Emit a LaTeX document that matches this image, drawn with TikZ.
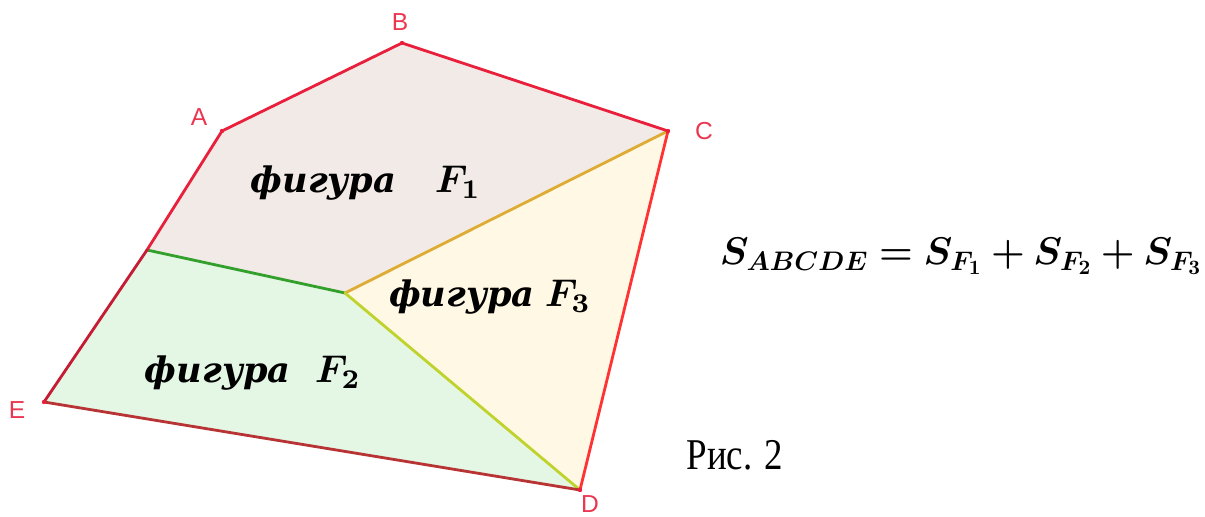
\documentclass[tikz,border=0pt]{standalone}
\usepackage{amsmath}
\usepackage{graphicx}
\usepackage{fontspec}
\setmainfont{Liberation Serif}
\setsansfont{Liberation Sans}
\newfontfamily\figfont{DejaVu Serif}
\usetikzlibrary{calc}
\definecolor{edgered}{RGB}{232,32,60}
\definecolor{darkedge}{RGB}{184,52,52}
\definecolor{fillone}{RGB}{242,234,230}
\definecolor{filltwo}{RGB}{228,246,228}
\definecolor{fillthree}{RGB}{255,248,228}
\definecolor{greenedge}{RGB}{52,160,44}
\definecolor{goldedge}{RGB}{222,172,52}
\definecolor{limeedge}{RGB}{192,210,44}
\newcommand{\areasum}{$\boldsymbol{S_{ABCDE}}\boldsymbol{=}\boldsymbol{S_{F_1}}\boldsymbol{+}\boldsymbol{S_{F_2}}\boldsymbol{+}\boldsymbol{S_{F_3}}$}
\newcommand{\figname}[1]{{\fontsize{10}{10}\selectfont\scalebox{2.2}{$\boldsymbol{F_{#1}}$}}}
\tikzset{
    side/.style={
        line width=1.6pt,
        line cap=round,
        line join=round
    },
    % подписи вершин
    vlabel/.style={
        edgered!90!white,
        font=\sffamily\fontsize{14}{14}\selectfont
    },
    figlabel/.style={
        font=\figfont\fontsize{20}{20}\selectfont\bfseries\itshape
    },
    sumlabel/.style={
        font=\fontsize{22.3}{22.3}\selectfont
    }
}

\begin{document}
\begin{tikzpicture}[x=0.02cm,y=-0.02cm]
   \useasboundingbox (0,0) rectangle (1205,517);
   \path
    (222,131) coordinate (A)
    (402,43)  coordinate (B)
    (668,131) coordinate (C)
    (580,490) coordinate (D)
    (44,402)  coordinate (E)
    (345,293) coordinate (P)
    (147,250) coordinate (Q);

    % заливка трёх фигур
    \fill[fillone] (A) -- (B) -- (C) -- (P) -- (Q) -- cycle;
    \fill[filltwo] (Q) -- (P) -- (D) -- (E) -- cycle;
    \fill[fillthree] (P) -- (C) -- (D) -- cycle;

    % внутренние границы
    \draw[side,greenedge] (Q) -- (P);
    \draw[side,goldedge] (P) -- (C);
    \draw[side,limeedge] (P) -- (D);

    % стороны пятиугольника
    \draw[side,edgered] (Q) -- (A) -- (B) -- (C);
    \draw[side,red!80!white] (C) -- (D);
    \draw[side,darkedge] (D) -- (E);
    \draw[side,edgered!85!black] (E) -- (Q);

    % вершины
    \foreach \pt in {A,B,C,D,E}
      \fill[edgered] (\pt) circle (2.2);

    \node[vlabel] (la) at (199,117) {A};
    \node[vlabel] (lb) at (400,22) {B};
    \node[vlabel] (lc) at (704,131) {C};
    \node[vlabel] (ld) at (590,504) {D};
    \node[vlabel] (le) at (17,410) {E};

    \node[figlabel] (f1) at (366,183) {фигура\hspace{1.1em}\figname{1}};
    \node[figlabel] (f3) at (490,297) {фигура\hspace{0.3em}\figname{3}};
    \node[figlabel] (f2) at (253,373) {фигура\hspace{0.7em}\figname{2}};

    \node[font=\fontsize{25}{25}\selectfont] (fig) at (735,455) {\scalebox{0.84}[1]{Рис. 2}};
    \node[sumlabel] (total) at (961,256) {\scalebox{1.06}{\areasum}};
\end{tikzpicture}
\end{document}
